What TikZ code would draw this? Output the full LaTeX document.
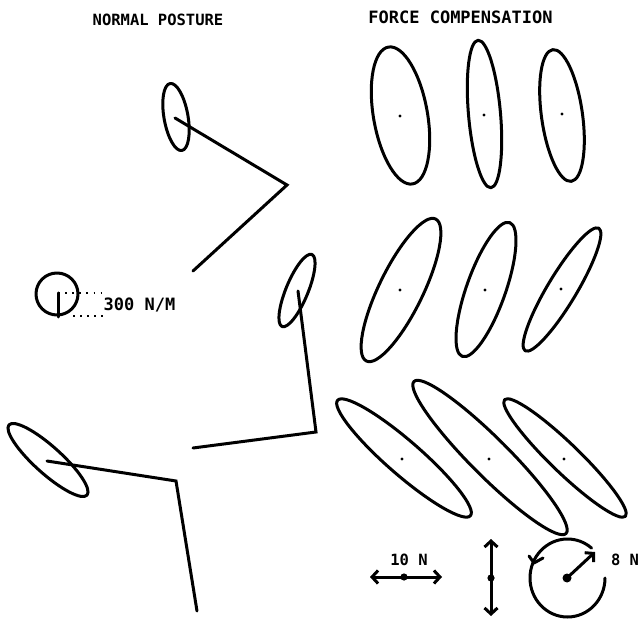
\documentclass[tikz,border=0pt]{standalone}
\usepackage{fontspec}
\setmainfont{DejaVu Sans Mono}
\usetikzlibrary{arrows.meta}
\tikzset{
  x=1pt,y=-1pt,
  curve/.style={line width=3pt,black,line cap=round,line join=round},
  armline/.style={line width=3pt,black,line cap=round,line join=miter},
  thick arrow/.style={line width=3pt,{Straight Barb[length=6pt,width=13pt,line width=3pt]}-{Straight Barb[length=6pt,width=13pt,line width=3pt]}},
  dotline/.style={line width=1.8pt,dash pattern=on 1.8pt off 5.3pt},
  caption/.style={font=\bfseries\fontsize{15.5}{16}\selectfont,inner sep=0pt,anchor=center},
  bigcaption/.style={font=\bfseries\fontsize{17}{18}\selectfont,inner sep=0pt,anchor=center},
}
\newcommand{\elli}[5]{% cx cy angle major minor
  \draw[curve,shift={(#1,#2)},rotate=#3] (0,0) ellipse [x radius=#4,y radius=#5];}
\newcommand{\ctr}[2]{\fill (#1,#2) circle (1.6pt);}
\begin{document}
\begin{tikzpicture}
\useasboundingbox (0,0) rectangle (640,620);
\fill[white] (0,0) rectangle (640,620);

\node[caption] (t1) at (158,20) {NORMAL POSTURE};
\node[bigcaption] (t2) at (460.5,17) {FORCE COMPENSATION};

% arms
\coordinate (a1) at (175,118); \coordinate (b1) at (287,185); \coordinate (c1) at (193,271);
\draw[armline] (a1) -- (b1) -- (c1);
\coordinate (a2) at (298,291); \coordinate (b2) at (316,432); \coordinate (c2) at (193,448);
\draw[armline] (a2) -- (b2) -- (c2);
\coordinate (a3) at (47,461); \coordinate (b3) at (176,481); \coordinate (c3) at (197,611);
\draw[armline] (a3) -- (b3) -- (c3);

% left ellipses
\elli{176}{117}{100}{34}{12}
\elli{297}{290.5}{67.5}{39}{11}
\elli{48}{460}{-42}{52.5}{13.5}

% scale circle
\coordinate (sc) at (58,293); \coordinate (sd) at (58,317);
\draw[curve] (57,294) circle (21);
\draw[curve] (sc) -- (sd);
\coordinate (d1) at (103,293); \coordinate (d2) at (73,316); \coordinate (d3) at (103,316);
\draw[dotline] (sc) -- (d1);
\draw[dotline] (d2) -- (d3);
\node[bigcaption] (l300) at (139.5,305) {300 N/M};

% right ellipses
\elli{400.5}{115.5}{100}{69.5}{27}
\elli{484.5}{114}{95}{74}{16}
\elli{562}{115.5}{98}{66.5}{20.5}
\elli{401}{290}{64}{79}{22}
\elli{486}{289.5}{70.5}{71}{19.5}
\elli{562}{289.5}{59}{71.5}{14.5}
\elli{404}{458}{-41}{88}{17}
\elli{490}{457.5}{-45}{107.5}{19}
\elli{565}{458}{-44}{84}{14.5}
\ctr{400}{116}\ctr{484}{115}\ctr{562}{114}
\ctr{400}{290}\ctr{485}{290}\ctr{561}{289}
\ctr{402}{459}\ctr{489}{459}\ctr{564}{459}

% force scales
\coordinate (hl) at (370,577); \coordinate (hr) at (442,577);
\draw[thick arrow] (hl) -- (hr);
\fill (404,577) circle (3.6pt);
\node[caption] (l10) at (409,560) {10 N};
\coordinate (vt) at (491,539); \coordinate (vb) at (491,616);
\draw[thick arrow] (vt) -- (vb);
\fill (491,578) circle (3.6pt);

\coordinate (oc) at (567,578);
\fill (oc) circle (4.5pt);
\coordinate (ot) at (595,552);
\draw[line width=3pt,-{Straight Barb[length=6pt,width=13pt,line width=3pt]}] (oc) -- (ot);
\draw[curve] (605,578) arc[start angle=0,end angle=310,x radius=37.5,y radius=39];
\draw[curve] (529,556) -- (534,563) -- (543,558);
\node[caption] (l8) at (625,560) {8 N};
\end{tikzpicture}
\end{document}
